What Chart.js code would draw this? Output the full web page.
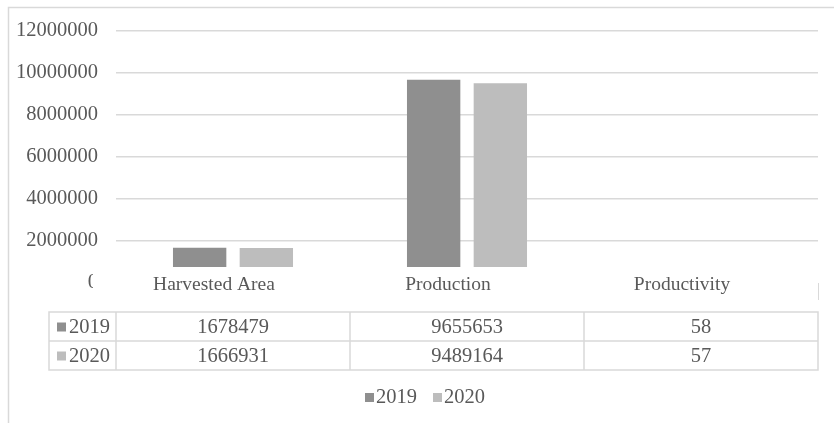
<!DOCTYPE html>
<html>
<head>
<meta charset="utf-8">
<script src="https://cdn.jsdelivr.net/npm/chart.js@4"></script>
<style>
  html, body { margin: 0; padding: 0; background: #fff; }
  #wrap { width: 834px; height: 423px; position: relative; }
</style>
</head>
<body>
<div id="wrap"><canvas id="grafico"></canvas></div>
<script>
// Dados do gráfico
const categorias = ['Harvested Area', 'Production', 'Productivity'];
const anos = ['2019', '2020'];
const valores2019 = [1678479, 9655653, 58];
const valores2020 = [1666931, 9489164, 57];
const cores = ['#8f8f8f', '#bdbdbd'];
const marcasY = [0, 2000000, 4000000, 6000000, 8000000, 10000000, 12000000];

const fonte = 'Liberation Serif, Times New Roman, serif';
const corTexto = '#595959';
const corLinha = '#d9d9d9';

// Desenha a moldura, a tabela de dados e a legenda
const tabelaPlugin = {
  id: 'tabela',
  beforeDraw(chart) {
    const ctx = chart.ctx;
    ctx.save();
    ctx.strokeStyle = corLinha;
    ctx.lineWidth = 1.5;
    ctx.beginPath();
    ctx.moveTo(8.5, 423);
    ctx.lineTo(8.5, 7.5);
    ctx.lineTo(834, 7.5);
    ctx.stroke();
    ctx.restore();
  },
  afterDatasetsDraw(chart) {
    const ctx = chart.ctx;
    const area = chart.chartArea;
    const x = chart.scales.x;
    ctx.save();
    // faixa do cabeçalho da tabela (cobre a base das barras)
    ctx.fillStyle = '#fff';
    ctx.fillRect(93, area.bottom - 16, area.right - 93, 34);
    ctx.fillStyle = corTexto;
    ctx.font = '19.5px ' + fonte;
    ctx.textAlign = 'center';
    ctx.textBaseline = 'middle';
    categorias.forEach((c, i) => {
      ctx.fillText(c, x.getPixelForValue(i) - 19, area.bottom + 2);
    });
    ctx.strokeStyle = corLinha;
    ctx.lineWidth = 1;
    ctx.beginPath();
    ctx.moveTo(area.right + 0.5, area.bottom);
    ctx.lineTo(area.right + 0.5, area.bottom + 17);
    ctx.stroke();
    ctx.restore();
  },
  afterDraw(chart) {
    const ctx = chart.ctx;
    const area = chart.chartArea;
    const x = chart.scales.x;
    const topo = 312, alt = 29, esq = 49;
    const series = [valores2019, valores2020];
    ctx.save();
    ctx.strokeStyle = corLinha;
    ctx.lineWidth = 1.5;
    // linhas da tabela
    ctx.strokeRect(esq, topo, area.right - esq, alt * 2);
    ctx.beginPath();
    ctx.moveTo(esq, topo + alt);
    ctx.lineTo(area.right, topo + alt);
    const passo = (area.right - area.left) / categorias.length;
    for (let i = 0; i < categorias.length; i++) {
      const xl = area.left + passo * i;
      ctx.moveTo(xl, topo);
      ctx.lineTo(xl, topo + alt * 2);
    }
    ctx.stroke();
    // conteúdo
    ctx.font = '20.5px ' + fonte;
    ctx.textBaseline = 'middle';
    series.forEach((serie, r) => {
      const yc = topo + alt * r + alt / 2;
      ctx.fillStyle = cores[r];
      ctx.fillRect(57, yc - 4, 9, 9);
      ctx.fillStyle = corTexto;
      ctx.textAlign = 'left';
      ctx.fillText(anos[r], 69, yc + 1);
      ctx.textAlign = 'center';
      serie.forEach((v, i) => {
        ctx.fillText(String(v), x.getPixelForValue(i), yc + 1);
      });
    });
    // legenda
    const legY = 397;
    let lx = 365;
    anos.forEach((a, i) => {
      ctx.fillStyle = cores[i];
      ctx.fillRect(lx, legY - 4, 9, 9);
      ctx.fillStyle = corTexto;
      ctx.textAlign = 'left';
      ctx.fillText(a, lx + 11, legY + 1);
      lx += 68;
    });
    ctx.restore();
  }
};

const ctx = document.getElementById('grafico').getContext('2d');
new Chart(ctx, {
  type: 'bar',
  data: {
    labels: categorias,
    datasets: [
      { label: anos[0], data: valores2019, backgroundColor: cores[0] },
      { label: anos[1], data: valores2020, backgroundColor: cores[1] }
    ]
  },
  options: {
    responsive: true,
    maintainAspectRatio: false,
    animation: false,
    layout: { padding: { top: 27, bottom: 140, left: 0, right: 16 } },
    plugins: { legend: { display: false }, tooltip: { enabled: false } },
    datasets: { bar: { categoryPercentage: 0.57, barPercentage: 0.8 } },
    scales: {
      x: {
        ticks: { display: false },
        grid: { display: false },
        border: { display: false },
        afterFit: s => { s.height = 0; }
      },
      y: {
        min: 0,
        max: 12000000,
        afterBuildTicks: s => { s.ticks = marcasY.map(v => ({ value: v })); },
        afterFit: s => { s.width = 116; },
        ticks: {
          color: corTexto,
          padding: 18,
          font: { family: fonte, size: 20.5 },
          callback: v => String(v)
        },
        grid: { color: corLinha, lineWidth: 1.5, drawTicks: false },
        border: { display: false }
      }
    }
  },
  plugins: [tabelaPlugin]
});
</script>
</body>
</html>
